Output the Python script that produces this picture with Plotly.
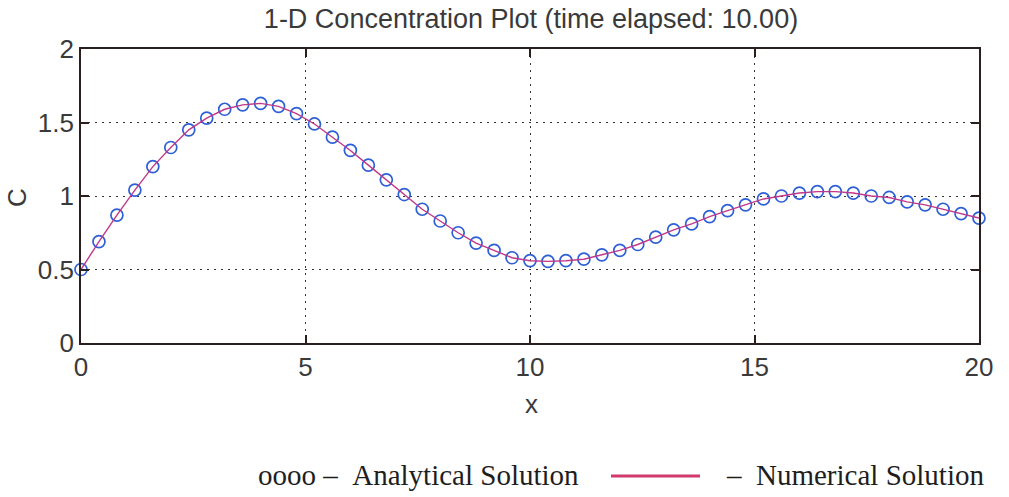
import plotly.graph_objects as go

# ---- data ----
x_vals = [0.0, 0.4, 0.8, 1.2, 1.6, 2.0, 2.4, 2.8, 3.2, 3.6, 4.0, 4.4, 4.8,
          5.2, 5.6, 6.0, 6.4, 6.8, 7.2, 7.6, 8.0, 8.4, 8.8, 9.2, 9.6, 10.0,
          10.4, 10.8, 11.2, 11.6, 12.0, 12.4, 12.8, 13.2, 13.6, 14.0, 14.4,
          14.8, 15.2, 15.6, 16.0, 16.4, 16.8, 17.2, 17.6, 18.0, 18.4, 18.8,
          19.2, 19.6, 20.0]
analytical = [0.50, 0.69, 0.87, 1.04, 1.20, 1.33, 1.45, 1.53, 1.59, 1.62, 1.63,
              1.61, 1.56, 1.49, 1.40, 1.31, 1.21, 1.11, 1.01, 0.91, 0.83, 0.75,
              0.68, 0.63, 0.58, 0.56, 0.555, 0.56, 0.57, 0.60, 0.63, 0.67, 0.72,
              0.77, 0.81, 0.86, 0.90, 0.94, 0.98, 1.00, 1.02, 1.03, 1.03, 1.02,
              1.00, 0.99, 0.96, 0.94, 0.91, 0.88, 0.85]
numerical = list(analytical)

x_ticks = [0, 5, 10, 15, 20]
y_ticks = [0, 0.5, 1, 1.5, 2]
y_tick_text = ["0", "0.5", "1", "1.5", "2"]

title_text = "1-D Concentration Plot (time elapsed: 10.00)"
x_label = "x"
y_label = "C"
legend_analytical = "oooo \u2013\u00a0\u00a0Analytical Solution"
legend_numerical = "\u2013\u00a0\u00a0Numerical Solution"

# ---- figure ----
W, H = 1009, 497
ML, MR, MT, MB = 81, 30, 49, 154
PW = W - ML - MR
PH = H - MT - MB


def px_x(p):
    return (p - ML) / PW


def px_y(p):
    return (H - MB - p) / PH


fig = go.Figure()
fig.add_trace(go.Scatter(
    x=x_vals, y=analytical, mode="markers", name="Analytical Solution",
    marker=dict(symbol="circle-open", size=12, color="#2d5fd6",
                line=dict(width=1.7, color="#2d5fd6")),
    cliponaxis=False, showlegend=False))
fig.add_trace(go.Scatter(
    x=x_vals, y=numerical, mode="lines", name="Numerical Solution",
    line=dict(color="#c0388a", width=1.4),
    cliponaxis=False, showlegend=False))

tick_font = dict(family="Arial, Liberation Sans, sans-serif", size=26, color="#3a3a3a")
grid_dash = "1.5px,5.5px"

fig.update_xaxes(
    range=[0, 20], tickvals=x_ticks, ticktext=[str(t) for t in x_ticks],
    showgrid=True, gridcolor="#333333", gridwidth=1.2, griddash=grid_dash,
    showline=True, linecolor="#2a1e1e", linewidth=1.8, mirror="ticks",
    ticks="inside", ticklen=8, tickwidth=1.8, tickcolor="#2a1e1e",
    tickfont=tick_font, zeroline=False, fixedrange=True)
fig.update_yaxes(
    range=[0, 2], tickvals=y_ticks, ticktext=y_tick_text,
    showgrid=True, gridcolor="#333333", gridwidth=1.2, griddash=grid_dash,
    showline=True, linecolor="#2a1e1e", linewidth=1.8, mirror="ticks",
    ticks="inside", ticklen=8, tickwidth=1.8, tickcolor="#2a1e1e",
    tickfont=tick_font, zeroline=False, fixedrange=True)

fig.update_layout(
    width=W, height=H,
    margin=dict(l=ML, r=MR, t=MT, b=MB, pad=0),
    paper_bgcolor="white", plot_bgcolor="white",
    showlegend=False,
    title=dict(text=title_text, x=px_x(531), xref="paper", xanchor="center",
               y=1 - 19 / H, yref="container", yanchor="middle",
               font=dict(family="Arial, Liberation Sans, sans-serif", size=27,
                         color="#3a3a3a")),
)

annotations = [
    dict(text=x_label, x=px_x(531), y=px_y(404), xref="paper", yref="paper",
         showarrow=False, xanchor="center", yanchor="middle",
         font=dict(family="Arial, Liberation Sans, sans-serif", size=26, color="#3a3a3a")),
    dict(text=y_label, x=px_x(17), y=px_y(198), xref="paper", yref="paper",
         showarrow=False, xanchor="center", yanchor="middle", textangle=-90,
         font=dict(family="Arial, Liberation Sans, sans-serif", size=26, color="#3a3a3a")),
    dict(text=legend_analytical, x=px_x(256), y=px_y(475), xref="paper", yref="paper",
         showarrow=False, xanchor="left", yanchor="middle",
         font=dict(family="Liberation Serif, Times New Roman, serif", size=29, color="#1e1e1e")),
    dict(text=legend_numerical, x=px_x(986), y=px_y(475), xref="paper", yref="paper",
         showarrow=False, xanchor="right", yanchor="middle",
         font=dict(family="Liberation Serif, Times New Roman, serif", size=29, color="#1e1e1e")),
]
fig.update_layout(annotations=annotations)

fig.add_shape(type="line", xref="paper", yref="paper",
              x0=px_x(611), x1=px_x(700), y0=px_y(476), y1=px_y(476),
              line=dict(color="#d23a6e", width=3))

fig.write_html("out.html", config={"displayModeBar": False})
